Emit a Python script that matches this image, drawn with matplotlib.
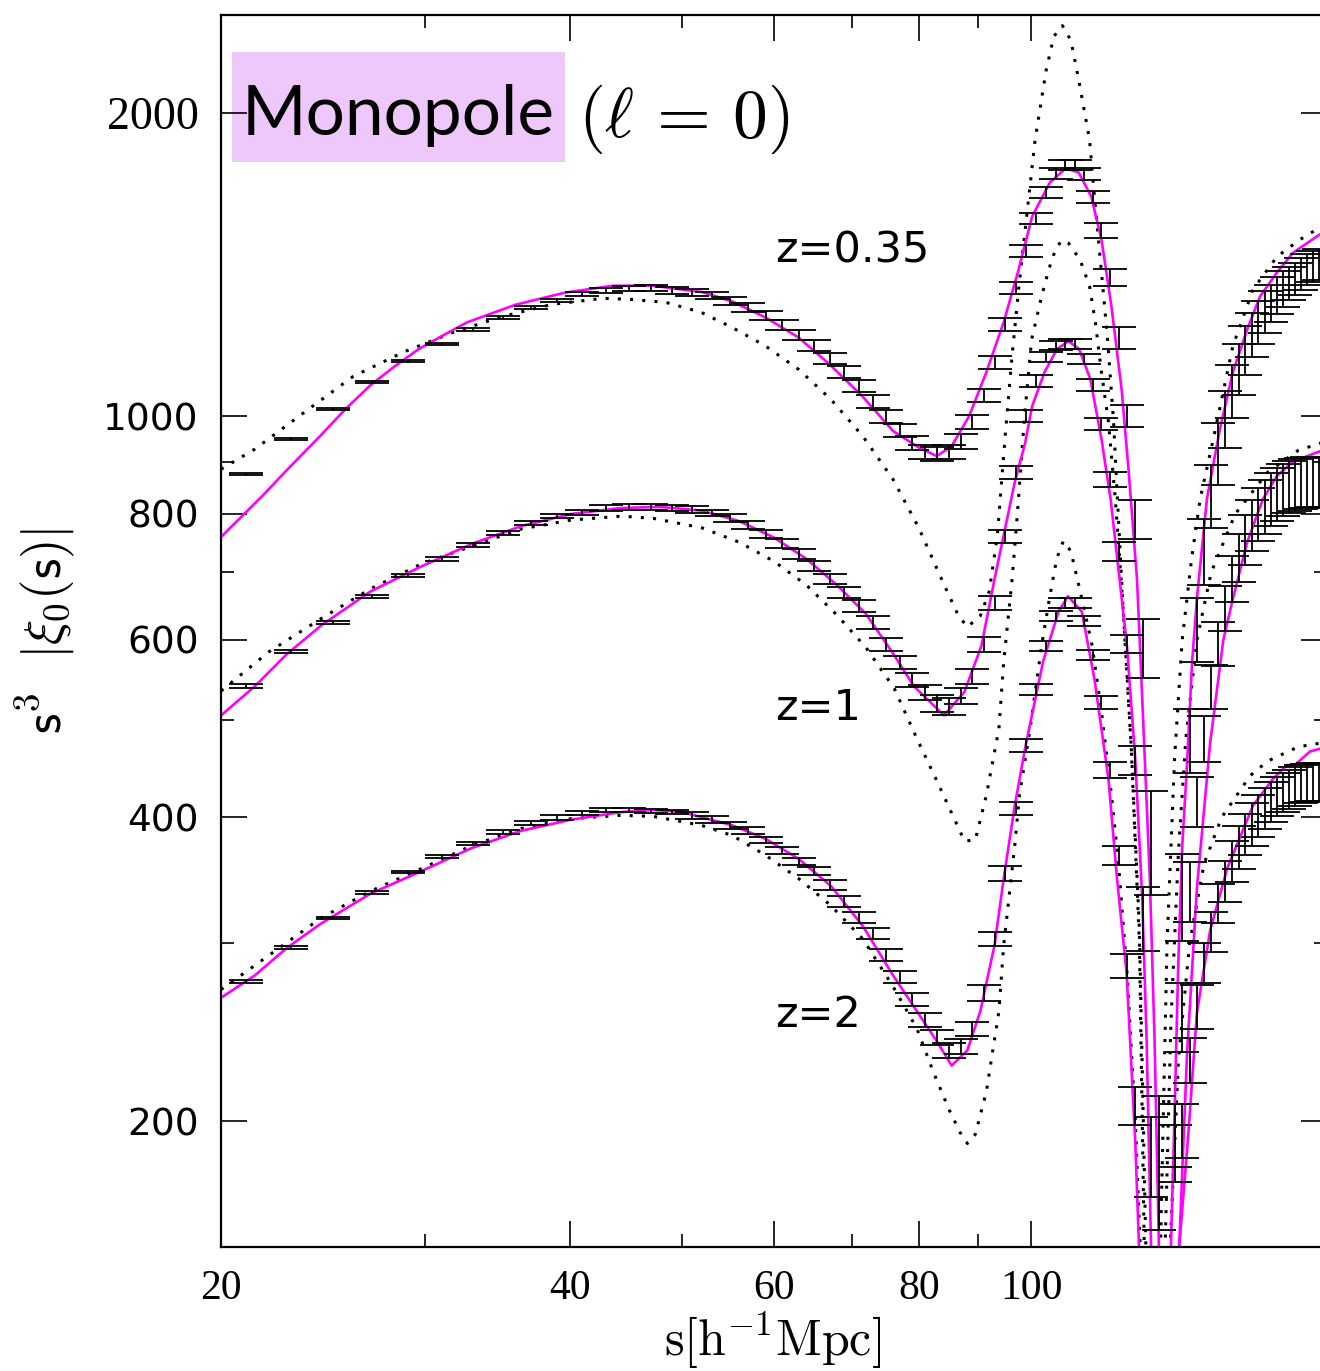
import numpy as np
import matplotlib
matplotlib.use('Agg')
import matplotlib.pyplot as plt
from matplotlib.ticker import FixedLocator, FixedFormatter, NullFormatter
from matplotlib.patches import Rectangle

plt.rcParams['mathtext.fontset'] = 'cm'

# measured bins, s = 21 ... 177 step 2
s_data = list(range(21, 179, 2))

data_035 = [876, 949, 1016, 1082, 1134, 1179, 1219, 1253, 1282, 1303,
            1321, 1333, 1339, 1339, 1333, 1327, 1318, 1300, 1282, 1259,
            1233, 1205, 1175, 1141, 1106, 1071, 1035, 1000, 968, 940,
            921, 918, 921, 944, 987, 1048, 1131, 1233, 1341, 1457,
            1571, 1668, 1742, 1775, 1775, 1739, 1651, 1529, 1373, 1197,
            1000, 790, 590, 380, 184, 60, 194, 335, 478, 615,
            735, 835, 920, 995, 1060, 1115, 1165, 1205, 1240, 1270,
            1295, 1318, 1338, 1355, 1370, 1385, 1398, 1408, 1415]
err_035 = [2, 2, 2, 3, 3, 3, 4, 4, 5, 5,
           6, 7, 8, 9, 10, 10, 11, 12, 13, 13,
           14, 14, 15, 15, 15, 15, 15, 15, 15, 15,
           15, 15, 15, 16, 16, 16, 17, 18, 19, 20,
           21, 21, 22, 20, 20, 22, 23, 25, 28, 30,
           25, 35, 40, 45, 28, 10, 14, 33, 35, 45,
           55, 60, 65, 65, 65, 65, 65, 60, 60, 60,
           55, 55, 55, 50, 50, 50, 50, 50, 50]

data_1 = [540, 584, 624, 663, 695, 722, 745, 766, 784, 796,
          803, 811, 813, 813, 811, 808, 802, 793, 780, 765,
          748, 730, 710, 690, 669, 648, 624, 594, 570, 548,
          532, 519, 516, 528, 552, 594, 653, 760, 880, 1001,
          1084, 1145, 1175, 1180, 1180, 1141, 1074, 982, 865, 735,
          595, 456, 318, 185, 90, 60, 186, 254, 338, 415,
          479, 540, 595, 646, 690, 725, 755, 780, 800, 815,
          828, 838, 846, 852, 856, 859, 861, 862, 862]
err_1 = [2, 2, 2, 2, 3, 3, 3, 3, 4, 4,
         4, 5, 5, 5, 6, 6, 6, 7, 7, 7,
         8, 8, 8, 8, 8, 9, 9, 9, 9, 9,
         9, 10, 10, 10, 10, 10, 11, 12, 13, 14,
         14, 14, 13, 13, 13, 13, 14, 14, 15, 16,
         12, 15, 23, 17, 10, 10, 12, 20, 23, 24,
         25, 27, 30, 33, 36, 40, 43, 45, 48, 50,
         50, 50, 50, 50, 50, 50, 50, 50, 50]

data_2 = [275, 297, 318, 337, 353, 366, 377, 387, 395, 400,
          404, 407, 407, 406, 405, 402, 398, 393, 388, 380,
          371, 362, 354, 343, 330, 318, 307, 292, 278, 264,
          252, 242, 235, 237, 247, 268, 303, 352, 408, 471,
          536, 592, 634, 653, 653, 627, 580, 520, 446, 367,
          285, 207, 130, 60, 40, 60, 120, 196, 230, 260,
          287, 308, 329, 346, 362, 374, 385, 394, 402, 409,
          415, 420, 424, 427, 430, 432, 433, 434, 434]
err_2 = [1, 1, 1, 1, 1, 1, 1, 2, 2, 2,
         2, 2, 2, 2, 2, 3, 3, 3, 3, 3,
         3, 3, 3, 4, 4, 4, 4, 4, 4, 4,
         4, 4, 4, 4, 4, 5, 5, 6, 6, 7,
         7, 7, 7, 7, 7, 7, 7, 8, 8, 8,
         8, 9, 15, 10, 10, 10, 15, 12, 12, 13,
         13, 14, 15, 16, 17, 18, 18, 19, 19, 19,
         19, 19, 19, 19, 19, 19, 19, 19, 19]

# non-linear model (magenta)
s_mod_035 = [20, 21.7, 22.7, 24.4, 25.6, 26.9, 28.25, 29.6, 31.1, 32.6, 35.9, 39.6,
             43.5, 47, 52, 55.2, 59, 63, 67, 71.5, 76, 79.9, 82.9, 85.4, 88.4, 91.5,
             94.7, 97.4, 100.2, 103.8, 107.1, 109.9, 112.7, 115, 117.3, 119.7,
             121.4, 123.4, 124.4, 126.6, 127.8, 128.9, 130.5, 132, 133.1, 133.9,
             135, 136.3, 137.7, 139, 141.8, 145.5, 149.3, 153.6, 157.6, 163,
             168.3, 177.5, 180]
mod_035 = [759, 833, 880, 958, 1016, 1073, 1121, 1165, 1203, 1239, 1290, 1326,
           1347, 1348, 1328, 1300, 1253, 1197, 1126, 1047, 967, 932, 913, 934, 1000, 1106,
           1240, 1389, 1578, 1705, 1761, 1745, 1651, 1497, 1285, 1063,
           880, 690, 560, 348, 240, 150, 60, 150, 212, 282,
           374, 451, 572, 659, 828, 971, 1106, 1219, 1315, 1389,
           1453, 1515, 1530]

s_mod_1 = [20, 21.4, 22.8, 24.4, 26.9, 29.8, 32.9, 36.3, 40.1, 44.3, 47.9, 52,
           56, 60, 64, 68, 72, 76, 79.2, 84.1, 87.6, 90.6, 93, 96.8, 98.8,
           100.2, 102.7, 105.3, 107.7, 110, 112.5, 115, 117.1, 119.2, 121,
           123, 124.7, 125.8, 126.9, 130, 134.2, 136.3, 139, 142.7, 146.5,
           149.3, 153.6, 158.5, 163, 168.3, 177.5, 180]
mod_1 = [505, 540, 581, 620, 670, 710, 747, 778, 800, 811, 813, 806,
         787, 758, 722, 680, 637, 582, 540, 505, 533, 592, 690, 860, 940,
         1023, 1106, 1166, 1187, 1166, 1088, 949, 828, 690, 590,
         456, 332, 240, 150, 50, 150, 233, 340, 474, 600,
         659, 750, 828, 873, 902, 923, 928]

s_mod_2 = [20, 21.4, 22.8, 24.4, 26.9, 29.8, 32.9, 36.3, 40.1, 44.3, 47.2, 50,
           55.2, 59, 63, 67.2, 71.6, 76, 79.7, 82.9, 85.4, 88.1, 90.4, 93, 94.7,
           96.8, 98.9, 102.4, 105.6, 107.6, 110.6, 113.4, 116.6, 118.6, 120.9,
           123, 123.9, 125, 129.5, 133.5, 134.2, 136.6, 139, 142.7, 147.6,
           155.4, 161.7, 166.3, 168.9, 174, 177.5, 180]
mod_2 = [265, 279, 297, 314, 336, 354, 373, 388, 398, 405, 407, 405,
         393, 381, 364, 342, 312, 279, 257, 240, 227, 235, 257, 299, 348,
         411, 471, 571, 640, 663, 640, 549, 437, 348, 280,
         190, 150, 90, 30, 110, 150, 193, 256, 309, 356,
         411, 437, 451, 451, 465, 468, 470]

# linear theory (dotted)
s_lin_035 = [20, 21.4, 23.6, 26, 28.7, 31.7, 35, 38.6, 42.7, 45.1, 48.4, 51.9,
             55.2, 59, 63, 67.2, 71.6, 76, 80, 84.2, 86.5, 88.1, 90.4, 92,
             93.5, 95, 96.3, 97.5, 99, 100.8, 103, 104.6, 106.4, 108.2, 109.8,
             112.3, 113.6, 115, 116.4, 117.8, 118.7, 120, 122, 124, 125.6, 127.6,
             129.3, 131, 133, 135, 137.5, 139.9, 143.6, 149.3, 155.4, 163, 170.6,
             177.5, 180]
lin_035 = [886, 928, 1009, 1095, 1157, 1211, 1256, 1291, 1309, 1306, 1297, 1268,
           1225, 1174, 1113, 1039, 955, 866, 775, 679, 635, 618, 634, 670,
           760, 960, 1150, 1330, 1560, 1881, 2200, 2380, 2440, 2360, 2170,
           1881, 1614, 1389, 1192, 987, 828, 650, 470, 310, 150, 30,
           150, 300, 460, 600, 720, 828, 949, 1174, 1336, 1440, 1497,
           1539, 1550]

s_lin_1 = [20, 22, 24.4, 26.9, 29.8, 32.9, 36.3, 40.1, 44.3, 47.2, 52, 56,
           60, 64, 68, 72, 76.2, 79.7, 83.3, 87.6, 89.5, 91.5, 93.8, 94.7, 96.3,
           97.3, 98.7, 100.1, 102.1, 103.6, 105.1, 106.4, 107.7, 110.2, 112.3,
           113.6, 115, 116.6, 118.2, 120, 122, 124, 125.2, 127.6, 130.5, 132,
           134, 136, 139, 143, 150, 160, 170, 177.5, 180]
lin_1 = [534, 584, 630, 674, 714, 743, 773, 789, 796, 792, 775, 750,
         718, 680, 635, 590, 537, 479, 430, 379, 380, 421, 490, 571, 690,
         800, 1000, 1192, 1315, 1400, 1470, 1495, 1485, 1430, 1346,
         1240, 1106, 987, 828, 650, 470, 300, 150, 30, 150, 250,
         370, 480, 600, 700, 800, 880, 925, 940, 945]

s_lin_2 = [20, 22, 24.4, 26.9, 29.8, 32.9, 36.3, 40.1, 44.3, 47.2, 51.9, 55.2,
           59, 63, 67.2, 71.6, 76, 79.7, 82.3, 85, 86.8, 88.1, 89.5, 91.5, 93.8,
           94.7, 96.8, 97.7, 99.8, 102.1, 103.6, 105.2, 106.6, 108.2, 109.6, 110.9,
           112.9, 115, 117.3, 118.9, 121, 123, 124.2, 127.6, 131.8, 134, 137,
           141, 146, 154.5, 160, 170, 177.5, 180]
lin_2 = [270, 292, 318, 338, 356, 375, 390, 399, 402, 401, 393, 384,
         367, 348, 327, 303, 272, 247, 224, 205, 195, 190, 194, 214, 257,
         299, 375, 421, 490, 592, 655, 722, 752, 735, 690, 650,
         592, 509, 421, 362, 280, 200, 150, 20, 150, 230, 300,
         360, 400, 440, 455, 470, 474, 475]

z_labels = ['z=0.35', 'z=1', 'z=2']

fig = plt.figure(figsize=(13.2, 13.71), dpi=100)
ax = fig.add_axes([221 / 1320, 124 / 1371, 1106 / 1320, 1232 / 1371])
ax.set_xscale('log')
ax.set_yscale('log')

dot = (0, (1, 3))
for s, v in [(s_lin_035, lin_035), (s_lin_1, lin_1), (s_lin_2, lin_2)]:
    ax.plot(s, v, color='black', lw=2.2, linestyle=dot)

for s, v in [(s_mod_035, mod_035), (s_mod_1, mod_1), (s_mod_2, mod_2)]:
    ax.plot(s, v, color='#ff00ff', lw=1.9)

for v, e in [(data_035, err_035), (data_1, err_1), (data_2, err_2)]:
    ax.errorbar(s_data, v, yerr=e, fmt='none', ecolor='black',
                elinewidth=1.3, capsize=12, capthick=1.3)

ax.set_xlim(20, 180)
ax.set_ylim(150, 2500)

ax.xaxis.set_major_locator(FixedLocator([20, 40, 60, 80, 100]))
ax.xaxis.set_major_formatter(FixedFormatter(['20', '40', '60', '80', '100']))
ax.xaxis.set_minor_locator(FixedLocator([30, 50, 70, 90]))
ax.xaxis.set_minor_formatter(NullFormatter())
ax.yaxis.set_major_locator(FixedLocator([200, 400, 600, 800, 1000, 2000]))
ax.yaxis.set_major_formatter(FixedFormatter(['200', '400', '600', '800', '1000', '2000']))
ax.yaxis.set_minor_locator(FixedLocator([300, 500, 700, 900]))
ax.yaxis.set_minor_formatter(NullFormatter())
ax.tick_params(which='both', direction='in', top=True, right=True, width=1.2)
ax.tick_params(which='major', length=19, labelsize=27, pad=16)
ax.tick_params(which='minor', length=9.5)
for sp in ax.spines.values():
    sp.set_linewidth(1.6)
for lab in ax.get_xticklabels():
    lab.set_family('Liberation Serif')
    lab.set_fontsize(30)
ylabs = ax.get_yticklabels()
ylabs[-1].set_family('Liberation Serif')
ylabs[-1].set_fontsize(33)

# title box
ax.add_patch(Rectangle((0.0099, 0.8807), 0.3011, 0.0893, transform=ax.transAxes,
                       facecolor='#efc8fb', edgecolor='none', zorder=0))
ax.text(0.160, 0.9026, 'Monopole', transform=ax.transAxes, ha='center',
        va='baseline', fontsize=50, family='Lato')
ax.text(0.3228, 0.9010, r'$(\ell\,=\,0)$', transform=ax.transAxes, ha='left',
        va='baseline', fontsize=50)

for lab, y in zip(z_labels, [0.7995, 0.4278, 0.1786]):
    ax.text(0.5009, y, lab, transform=ax.transAxes, ha='left', va='baseline',
            fontsize=31, family='DejaVu Sans')

fig.text(0.585, 0.0, r'$\mathrm{s}[\mathrm{h}^{-1}\mathrm{Mpc}]$', ha='center',
         va='bottom', fontsize=36)
fig.text(0.034, 0.540, r'$\mathsf{s}^3\ \ |\xi_0(\mathsf{s})|$', ha='center',
         va='center', rotation=90, fontsize=38)

fig.savefig('out.png', dpi=100)
